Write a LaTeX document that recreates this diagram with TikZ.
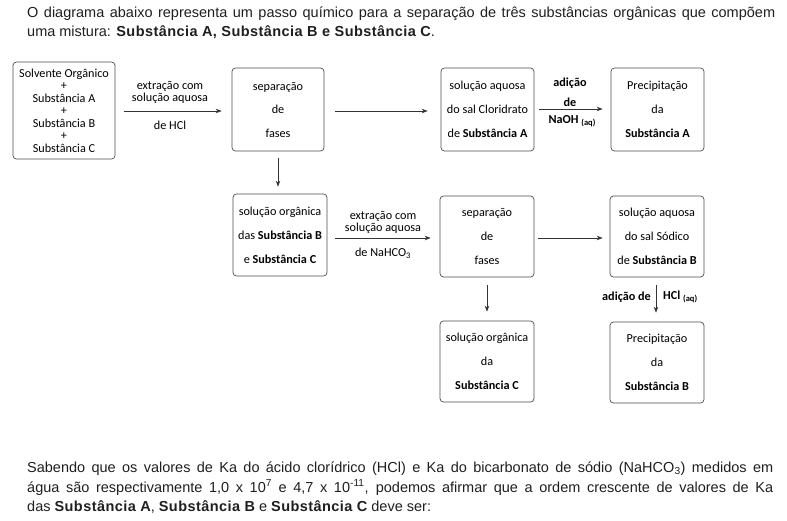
\documentclass[tikz,border=0pt]{standalone}
\usepackage{fontspec}
\setmainfont{Liberation Sans}
\newfontfamily\boxfont{Carlito}
\usetikzlibrary{arrows.meta}
\newcommand\pbold[1]{{\bfseries\addfontfeature{LetterSpace=3}#1}}
\begin{document}
\begin{tikzpicture}[x=1pt,y=-1pt,
  box/.style={draw=black!70, line width=0.7pt, rounded corners=3.5pt, align=center, inner sep=0pt,
    minimum width=93pt, minimum height=82pt, font=\boxfont\fontsize{12.2}{24}\selectfont},
  arr/.style={-{Stealth[length=6pt,width=4.5pt]}, line width=0.6pt, draw=black!80},
  lbl/.style={font=\boxfont\fontsize{12.2}{13}\selectfont, inner sep=0pt},
  para/.style={anchor=base west, inner sep=0pt, text=black!88, font=\fontsize{14.5}{18}\selectfont}]
\useasboundingbox (0,0) rectangle (787,521);
% top text
\node[para] (t1) at (27,18) {\makebox[748pt][s]{O diagrama abaixo representa um passo químico para a separação de três substâncias orgânicas que compõem}};
\node[para] (t2) at (27,37) {uma mistura: \pbold{Substância A, Substância B e Substância C}.};
% boxes
\node[box, minimum width=102pt, minimum height=97pt, font=\boxfont\fontsize{12.2}{12.5}\selectfont] (b1) at (64,110.5)
  {Solvente Orgânico\\+\\Substância A\\+\\Substância B\\+\\Substância C};
\node[box, minimum width=92pt, minimum height=83pt, font=\boxfont\fontsize{12.2}{23.5}\selectfont] (b2) at (278,109.5) {separação\\de\\fases};
\node[box, minimum height=83pt] (b3) at (487.5,109.5) {solução aquosa\\do sal Cloridrato\\de \textbf{Substância A}};
\node[box, minimum height=83pt] (b4) at (657.5,109.5) {Precipitação\\da\\\textbf{Substância A}};
\node[box, minimum width=94pt] (b5) at (280,235) {solução orgânica\\das \textbf{Substância B}\\e \textbf{Substância C}};
\node[box, minimum width=94pt, minimum height=81pt] (b6) at (487,236.5) {separação\\de\\fases};
\node[box, minimum width=94pt, minimum height=81pt] (b7) at (657,236.5) {solução aquosa\\do sal Sódico\\de \textbf{Substância B}};
\node[box, minimum width=94pt, minimum height=81pt] (b8) at (657,362.5) {Precipitação\\da\\\textbf{Substância B}};
\node[box, minimum width=94pt, minimum height=81pt] (b9) at (487,361.5) {solução orgânica\\da\\\textbf{Substância C}};
% arrows
\draw[arr, shorten <=9pt, shorten >=10pt] (b1.east |- 0,111) -- (b2.west |- 0,111);
\draw[arr, shorten <=11pt, shorten >=13pt] (b2.east |- 0,111) -- (b3.west |- 0,111);
\draw[arr, shorten <=5pt, shorten >=8pt] (b3.east |- 0,109) -- (b4.west |- 0,109);
\draw[arr, shorten <=7pt, shorten >=7pt] (b2.south) -- (b2.south |- b5.north);
\draw[arr, shorten <=8pt, shorten >=9pt] (b5.east |- 0,238) -- (b6.west |- 0,238);
\draw[arr, shorten <=4pt, shorten >=7pt] (b6.east |- 0,238) -- (b7.west |- 0,238);
\draw[arr, shorten <=8pt, shorten >=9pt] (b6.south) -- (b6.south |- b9.north);
\draw[arr, shorten <=8pt, shorten >=9pt] ([xshift=-1pt]b7.south) -- ([xshift=-1pt]b7.south |- b8.north);
% labels
\node[lbl] (l1a) at (170,86) {extração com};
\node[lbl] (l1b) at (170,98) {solução aquosa};
\node[lbl] (l1c) at (170,125) {de HCl};
\node[lbl] (l4a) at (383,216) {extração com};
\node[lbl] (l4b) at (383,228) {solução aquosa};
\node[lbl] (l4c) at (383,253) {de NaHCO\textsubscript{3}};
\node[lbl] (l3a) at (570,83) {\textbf{adição}};
\node[lbl] (l3b) at (570,102) {\textbf{de}};
\node[lbl] (l3c) at (572,121) {\textbf{NaOH} {\fontsize{8.5}{9}\selectfont\raisebox{-2.5pt}{\textbf{(aq)}}}};
\node[lbl, anchor=east] (l7a) at (651,297) {\textbf{adição de}};
\node[lbl, anchor=west] (l7b) at (663,297) {\textbf{HCl} {\fontsize{8.5}{9}\selectfont\raisebox{-2.5pt}{\textbf{(aq)}}}};
% bottom text
\node[para] (s1) at (27,472.5) {\makebox[746pt][s]{Sabendo que os valores de Ka do ácido clorídrico (HCl) e Ka do bicarbonato de sódio (NaHCO\textsubscript{3}) medidos em}};
\node[para] (s2) at (27,492) {\makebox[746pt][s]{água são respectivamente 1,0 x 10\textsuperscript{7} e 4,7 x 10\textsuperscript{-11}, podemos afirmar que a ordem crescente de valores de Ka}};
\node[para] (s3) at (27,511) {das \pbold{Substância A}, \pbold{Substância B} e \pbold{Substância C} deve ser:};
\end{tikzpicture}
\end{document}
